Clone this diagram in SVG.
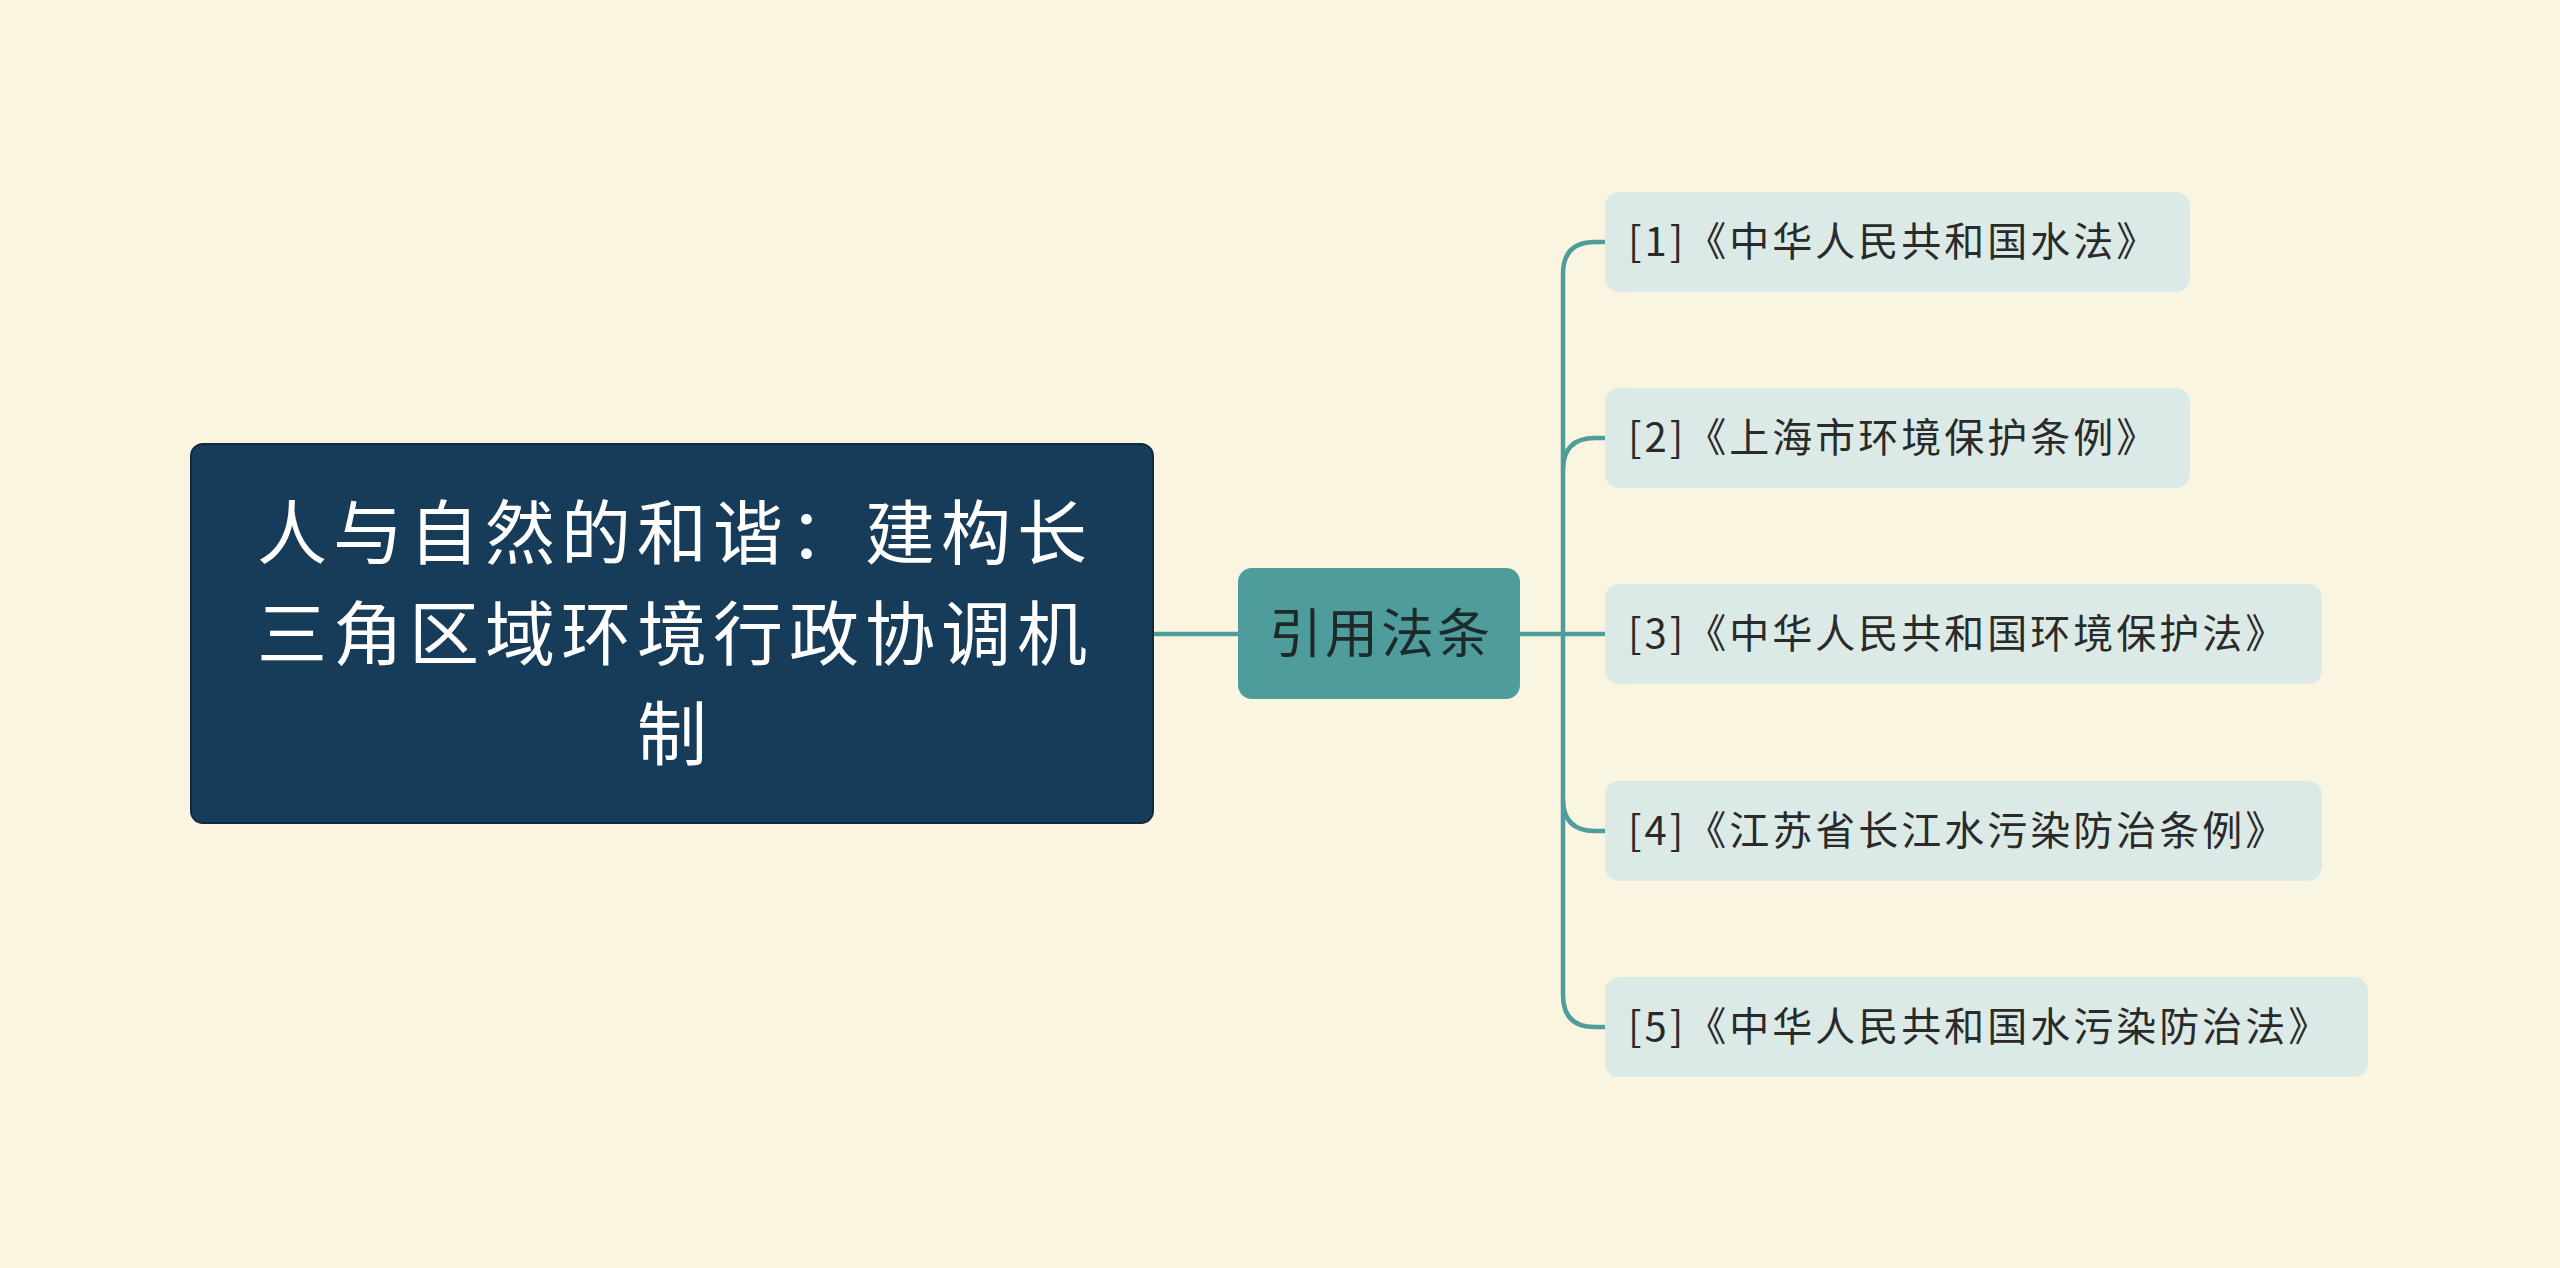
<svg xmlns="http://www.w3.org/2000/svg" width="2560" height="1268" viewBox="0 0 2560 1268">
<style>
.l{fill:none;stroke:#4E9C9B;stroke-width:4.5}
.leaf rect{fill:#DCEAE7}
.leaf text{font-family:"Noto Sans CJK SC",sans-serif;font-size:40px;letter-spacing:3px;fill:#2a2a2a}
</style>
<rect width="2560" height="1268" fill="#FAF5E0"/>
<g id="connectors">
<path class="l" d="M1153 634H1238"/>
<path class="l" d="M1520 634H1563"/>
<path class="l" d="M1605 242H1595Q1563 242 1563 274V995Q1563 1027 1595 1027H1605"/>
<path class="l" d="M1563 470Q1563 438 1595 438H1605"/>
<path class="l" d="M1563 634H1605"/>
<path class="l" d="M1563 799Q1563 831 1595 831H1605"/>
</g>
<g id="root">
<rect x="191" y="444" width="962" height="379" rx="12" fill="#173C5A" stroke="#0f2a40" stroke-width="2"/>
<g font-family="Noto Sans CJK SC,sans-serif" font-size="70" letter-spacing="6" fill="#fff" text-anchor="middle">
<text x="675" y="559">人与自然的和谐：建构长</text>
<text x="675" y="660">三角区域环境行政协调机</text>
<text x="675" y="760">制</text>
</g>
</g>
<g id="mid">
<rect x="1238" y="568" width="282" height="131" rx="14" fill="#4E9C9B"/>
<text x="1381" y="653" text-anchor="middle" font-family="Noto Sans CJK SC,sans-serif" font-size="53" letter-spacing="3" fill="#1e2a2a">引用法条</text>
</g>
<g id="leaf1" class="leaf"><rect x="1605" y="192" width="585" height="100" rx="14"/><text x="1628" y="256">[1]《中华人民共和国水法》</text></g>
<g id="leaf2" class="leaf"><rect x="1605" y="388" width="585" height="100" rx="14"/><text x="1628" y="452">[2]《上海市环境保护条例》</text></g>
<g id="leaf3" class="leaf"><rect x="1605" y="584" width="717" height="100" rx="14"/><text x="1628" y="648">[3]《中华人民共和国环境保护法》</text></g>
<g id="leaf4" class="leaf"><rect x="1605" y="781" width="717" height="100" rx="14"/><text x="1628" y="845">[4]《江苏省长江水污染防治条例》</text></g>
<g id="leaf5" class="leaf"><rect x="1605" y="977" width="763" height="100" rx="14"/><text x="1628" y="1041">[5]《中华人民共和国水污染防治法》</text></g>
</svg>
